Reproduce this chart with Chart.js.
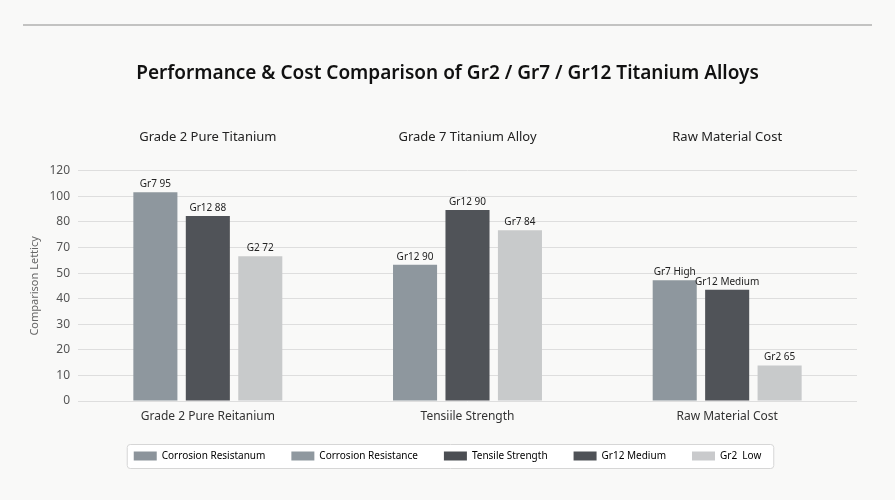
<!DOCTYPE html>
<html>
<head>
<meta charset="utf-8">
<script src="https://cdn.jsdelivr.net/npm/chart.js@4"></script>
<style>
  html, body { margin: 0; padding: 0; background: #f9f9f8; }
  #wrap { width: 895px; height: 500px; }
</style>
</head>
<body>
<div id="wrap"><canvas id="alloyChart" width="895" height="500"></canvas></div>
<script>
// categories / labels
const categories = ["Grade 2 Pure Reitanium", "Tensiile Strength", "Raw Material Cost"];
const groupTitles = ["Grade 2 Pure Titanium", "Grade 7 Titanium Alloy", "Raw Material Cost"];
const tickLabels = ["0", "10", "20", "30", "40", "50", "70", "80", "100", "120"];

// bar heights, in tick steps of the (uneven) y axis
const seriesA = [8.16, 5.33, 4.72];
const seriesB = [7.23, 7.47, 4.35];
const seriesC = [5.66, 6.68, 1.39];

// text printed above each bar
const labelsA = ["Gr7 95", "Gr12 90", "Gr7 High"];
const labelsB = ["Gr12 88", "Gr12 90", "Gr12 Medium"];
const labelsC = ["G2 72", "Gr7 84", "Gr2 65"];

const legendNames = ["Corrosion Resistanum", "Corrosion Resistance", "Tensile Strength", "Gr12 Medium", "Gr2  Low"];
const legendColors = ["#8c949b", "#8f989f", "#4b4e53", "#4f5257", "#c9cacc"];

const FONT = "'Noto Sans', 'Open Sans', sans-serif";

const barLabels = [labelsA, labelsB, labelsC];

const decorPlugin = {
  id: "decor",
  beforeDraw(chart) {
    const ctx = chart.ctx;
    ctx.save();
    // top rule
    ctx.strokeStyle = "#b0b0b0";
    ctx.lineWidth = 1.5;
    ctx.beginPath();
    ctx.moveTo(23, 25);
    ctx.lineTo(872, 25);
    ctx.stroke();

    // legend frame
    const hb = chart.legend && chart.legend.legendHitBoxes;
    if (hb && hb.length) {
      const left = Math.min(...hb.map(h => h.left)) - 7;
      const right = Math.max(...hb.map(h => h.left + h.width)) + 12;
      const top = hb[0].top - 7;
      const bottom = hb[0].top + hb[0].height + 7;
      ctx.fillStyle = "#ffffff";
      ctx.strokeStyle = "#d6d6d6";
      ctx.lineWidth = 1;
      ctx.beginPath();
      ctx.roundRect(left + 0.5, top + 0.5, right - left, bottom - top, 3);
      ctx.fill();
      ctx.stroke();
    }
    ctx.restore();
  },
  afterDatasetsDraw(chart) {
    const ctx = chart.ctx;
    ctx.save();
    ctx.font = "10px " + FONT;
    ctx.fillStyle = "#222";
    ctx.textAlign = "center";
    ctx.textBaseline = "bottom";
    chart.data.datasets.forEach((ds, i) => {
      chart.getDatasetMeta(i).data.forEach((bar, j) => {
        ctx.fillText(barLabels[i][j], bar.x, bar.y - 3);
      });
    });
    ctx.restore();
  }
};

// empty axis used only as a fixed-width gutter
const gutter = (side, width, weight) => ({
  position: side,
  weight: weight,
  grid: { display: false, drawTicks: false },
  border: { display: false },
  ticks: { display: false },
  afterFit: s => { s.width = width; }
});

new Chart(document.getElementById("alloyChart"), {
  type: "bar",
  data: {
    labels: categories,
    datasets: [
      { label: "A", data: seriesA, backgroundColor: "#8e979e" },
      { label: "B", data: seriesB, backgroundColor: "#505358" },
      { label: "C", data: seriesC, backgroundColor: "#c8cacb" }
    ]
  },
  options: {
    responsive: false,
    animation: false,
    layout: { padding: { left: 0, right: 0, top: 0, bottom: 29 } },
    datasets: { bar: { categoryPercentage: 0.606, barPercentage: 0.84 } },
    scales: {
      x: {
        grid: { display: false },
        border: { display: false },
        ticks: { color: "#333", font: { family: FONT, size: 12 }, padding: 0 },
        afterFit: s => { s.height = 24; }
      },
      x2: {
        type: "category",
        position: "top",
        labels: groupTitles,
        grid: { display: false, drawTicks: false },
        border: { display: false },
        ticks: { color: "#222", font: { family: FONT, size: 13 }, padding: 26 },
        afterFit: s => { s.height = 67; }
      },
      y: {
        min: 0,
        max: 9,
        weight: 0,
        grid: { color: "#dedede", drawTicks: false },
        border: { display: false },
        ticks: {
          stepSize: 1,
          padding: 8,
          color: "#555",
          font: { family: FONT, size: 12 },
          callback: v => tickLabels[v]
        },
        title: {
          display: true,
          text: "Comparison Letticy",
          color: "#666",
          font: { family: FONT, size: 11 },
          padding: { top: 0, bottom: 4 }
        },
        afterFit: s => { s.width = 50; }
      },
      gutterLeft: gutter("left", 28, 5),
      gutterRight: gutter("right", 38, 5)
    },
    plugins: {
      title: {
        display: true,
        text: "Performance & Cost Comparison of Gr2 / Gr7 / Gr12 Titanium Alloys",
        color: "#111",
        font: { family: FONT, size: 19, weight: "600" },
        padding: { top: 62, bottom: 19 }
      },
      legend: {
        position: "bottom",
        onClick: null,
        labels: {
          boxWidth: 23,
          boxHeight: 9,
          padding: 26,
          color: "#333",
          font: { family: FONT, size: 10 },
          generateLabels: () => legendNames.map((name, i) => ({
            text: name,
            fillStyle: legendColors[i],
            strokeStyle: legendColors[i],
            lineWidth: 0,
            hidden: false,
            datasetIndex: 0
          }))
        }
      },
      tooltip: { enabled: false }
    }
  },
  plugins: [decorPlugin]
});
</script>
</body>
</html>
